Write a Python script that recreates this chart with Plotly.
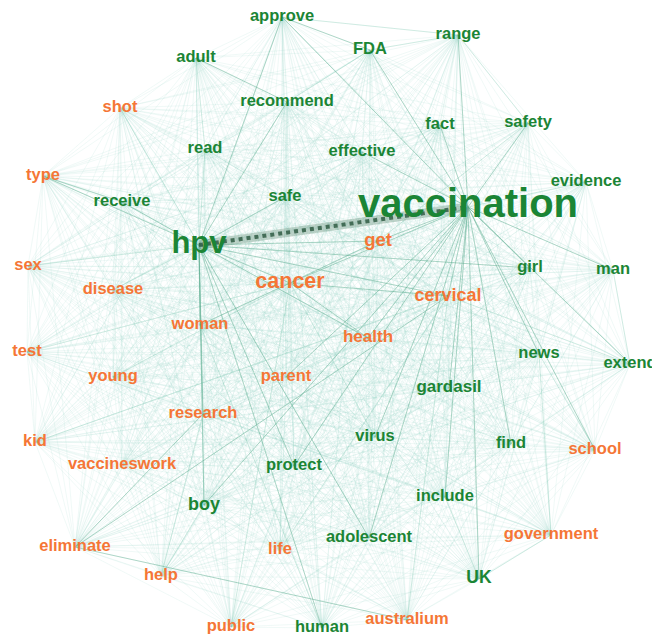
import itertools
import plotly.graph_objects as go

# ---- data: word nodes (layout position in picture units), size, group ----
words = ["approve", "FDA", "range", "adult", "recommend", "fact", "safety", "read",
         "effective", "evidence", "receive", "safe", "vaccination", "hpv", "girl", "man",
         "news", "extend", "gardasil", "virus", "find", "protect", "include", "boy",
         "adolescent", "UK", "human",
         "shot", "type", "get", "cancer", "sex", "disease", "cervical", "woman", "health",
         "test", "young", "parent", "research", "kid", "vaccineswork", "school",
         "eliminate", "life", "help", "government", "public", "australium"]
node_x = [282, 370, 458, 196, 287, 440, 528, 205,
          362, 586, 122, 285, 468, 199, 530, 613,
          539, 630, 449, 375, 511, 294, 445, 204,
          369, 479, 322,
          120, 43, 378, 290, 28, 113, 448, 200, 368,
          27, 113, 286, 203, 35, 122, 595,
          75, 280, 161, 551, 231, 407]
node_y = [17, 50, 35, 58, 102, 125, 123, 149,
          152, 182, 202, 197, 207, 245, 268, 270,
          354, 364, 388, 437, 444, 466, 497, 505,
          538, 579, 628,
          108, 176, 241, 283, 266, 290, 296, 325, 338,
          352, 377, 377, 414, 442, 465, 450,
          547, 550, 576, 535, 627, 620]
word_size = [16.5, 16.5, 16.5, 16.5, 16.5, 16.5, 16.5, 16.5,
             16.5, 16.5, 16.5, 16.5, 40, 31, 16.5, 16.5,
             16.5, 16.5, 17, 16.5, 16.5, 16.5, 16.5, 18,
             16.5, 17.5, 16.5,
             16.5, 16.5, 18.5, 21.5, 16.5, 16.5, 18, 16.5, 17,
             16.5, 16.5, 16.5, 16.5, 16.5, 16.5, 16.5,
             16.5, 16.5, 16.5, 16.5, 16.5, 16.5]
word_group = ["green"] * 27 + ["orange"] * 22

# strongest co-occurrence
top_edges = [("hpv", "vaccination")]
# clearly visible co-occurrence edges
strong_edges = [
    ("hpv", "cancer"), ("hpv", "get"), ("hpv", "cervical"), ("hpv", "woman"), ("hpv", "boy"),
    ("hpv", "human"), ("hpv", "protect"), ("hpv", "approve"), ("hpv", "receive"),
    ("hpv", "type"), ("hpv", "recommend"), ("hpv", "health"), ("hpv", "adolescent"),
    ("hpv", "safe"), ("hpv", "girl"), ("hpv", "research"),
    ("vaccination", "FDA"), ("vaccination", "range"), ("vaccination", "fact"),
    ("vaccination", "safety"), ("vaccination", "effective"), ("vaccination", "get"),
    ("vaccination", "cancer"), ("vaccination", "cervical"), ("vaccination", "girl"),
    ("vaccination", "man"), ("vaccination", "news"), ("vaccination", "gardasil"),
    ("vaccination", "virus"), ("vaccination", "include"), ("vaccination", "UK"),
    ("vaccination", "adolescent"), ("vaccination", "protect"), ("vaccination", "boy"),
    ("vaccination", "find"), ("vaccination", "health"), ("vaccination", "approve"),
    ("vaccination", "parent"), ("vaccination", "extend"), ("vaccination", "school"),
    ("cancer", "cervical"), ("cancer", "get"), ("cancer", "health"), ("cancer", "woman"),
    ("approve", "FDA"), ("adult", "recommend"), ("type", "receive"),
    ("eliminate", "research"), ("eliminate", "cervical"), ("eliminate", "australium"),
]
# moderately visible edges
mid_edges = [
    ("approve", "range"), ("FDA", "range"), ("FDA", "recommend"), ("range", "safety"),
    ("safety", "get"), ("evidence", "vaccination"), ("sex", "hpv"), ("test", "cancer"),
    ("kid", "cervical"), ("help", "research"), ("help", "boy"), ("public", "cancer"),
    ("australium", "cervical"), ("UK", "include"), ("UK", "government"),
    ("government", "news"), ("school", "news"), ("extend", "cervical"), ("man", "extend"),
    ("adult", "read"), ("read", "hpv"), ("shot", "hpv"), ("woman", "human"),
    ("virus", "cancer"), ("life", "cervical"), ("young", "cancer"), ("disease", "hpv"),
]

green = "#1b8535"
orange = "#f57636"
idx = {w: i for i, w in enumerate(words)}


def segs(pairs):
    xs, ys = [], []
    for a, b in pairs:
        xs += [node_x[idx[a]], node_x[idx[b]], None]
        ys += [node_y[idx[a]], node_y[idx[b]], None]
    return xs, ys


fig = go.Figure()

# faint background co-occurrence web among all words
all_pairs = list(itertools.combinations(words, 2))
ax, ay = segs(all_pairs)
fig.add_trace(go.Scatter(x=ax, y=ay, mode="lines",
                         line=dict(color="rgba(150,212,195,0.16)", width=0.9),
                         hoverinfo="skip", showlegend=False))

mx, my = segs(mid_edges)
fig.add_trace(go.Scatter(x=mx, y=my, mode="lines",
                         line=dict(color="rgba(120,195,170,0.3)", width=0.9),
                         hoverinfo="skip", showlegend=False))

sx, sy = segs(strong_edges)
fig.add_trace(go.Scatter(x=sx, y=sy, mode="lines",
                         line=dict(color="rgba(90,170,140,0.45)", width=1.0),
                         hoverinfo="skip", showlegend=False))

tx, ty = segs(top_edges)
fig.add_trace(go.Scatter(x=tx, y=ty, mode="lines",
                         line=dict(color="rgba(120,160,140,0.45)", width=9),
                         hoverinfo="skip", showlegend=False))
fig.add_trace(go.Scatter(x=tx, y=ty, mode="lines",
                         line=dict(color="rgba(40,85,60,0.8)", width=4, dash="dot"),
                         hoverinfo="skip", showlegend=False))

# word labels
fig.add_trace(go.Scatter(
    x=node_x, y=node_y, mode="text", text=words,
    textposition="middle center",
    textfont=dict(family="Liberation Sans, Arial, sans-serif", size=word_size,
                  color=[green if g == "green" else orange for g in word_group],
                  weight="bold"),
    hoverinfo="skip", showlegend=False, cliponaxis=False))

fig.update_layout(
    width=652, height=639,
    margin=dict(l=0, r=0, t=0, b=0),
    paper_bgcolor="white", plot_bgcolor="white",
    xaxis=dict(range=[0, 652], visible=False, fixedrange=True),
    yaxis=dict(range=[639, 0], visible=False, fixedrange=True),
)

fig.write_html("out.html", config={"displayModeBar": False},
               post_script="document.body.style.margin='0px';")
